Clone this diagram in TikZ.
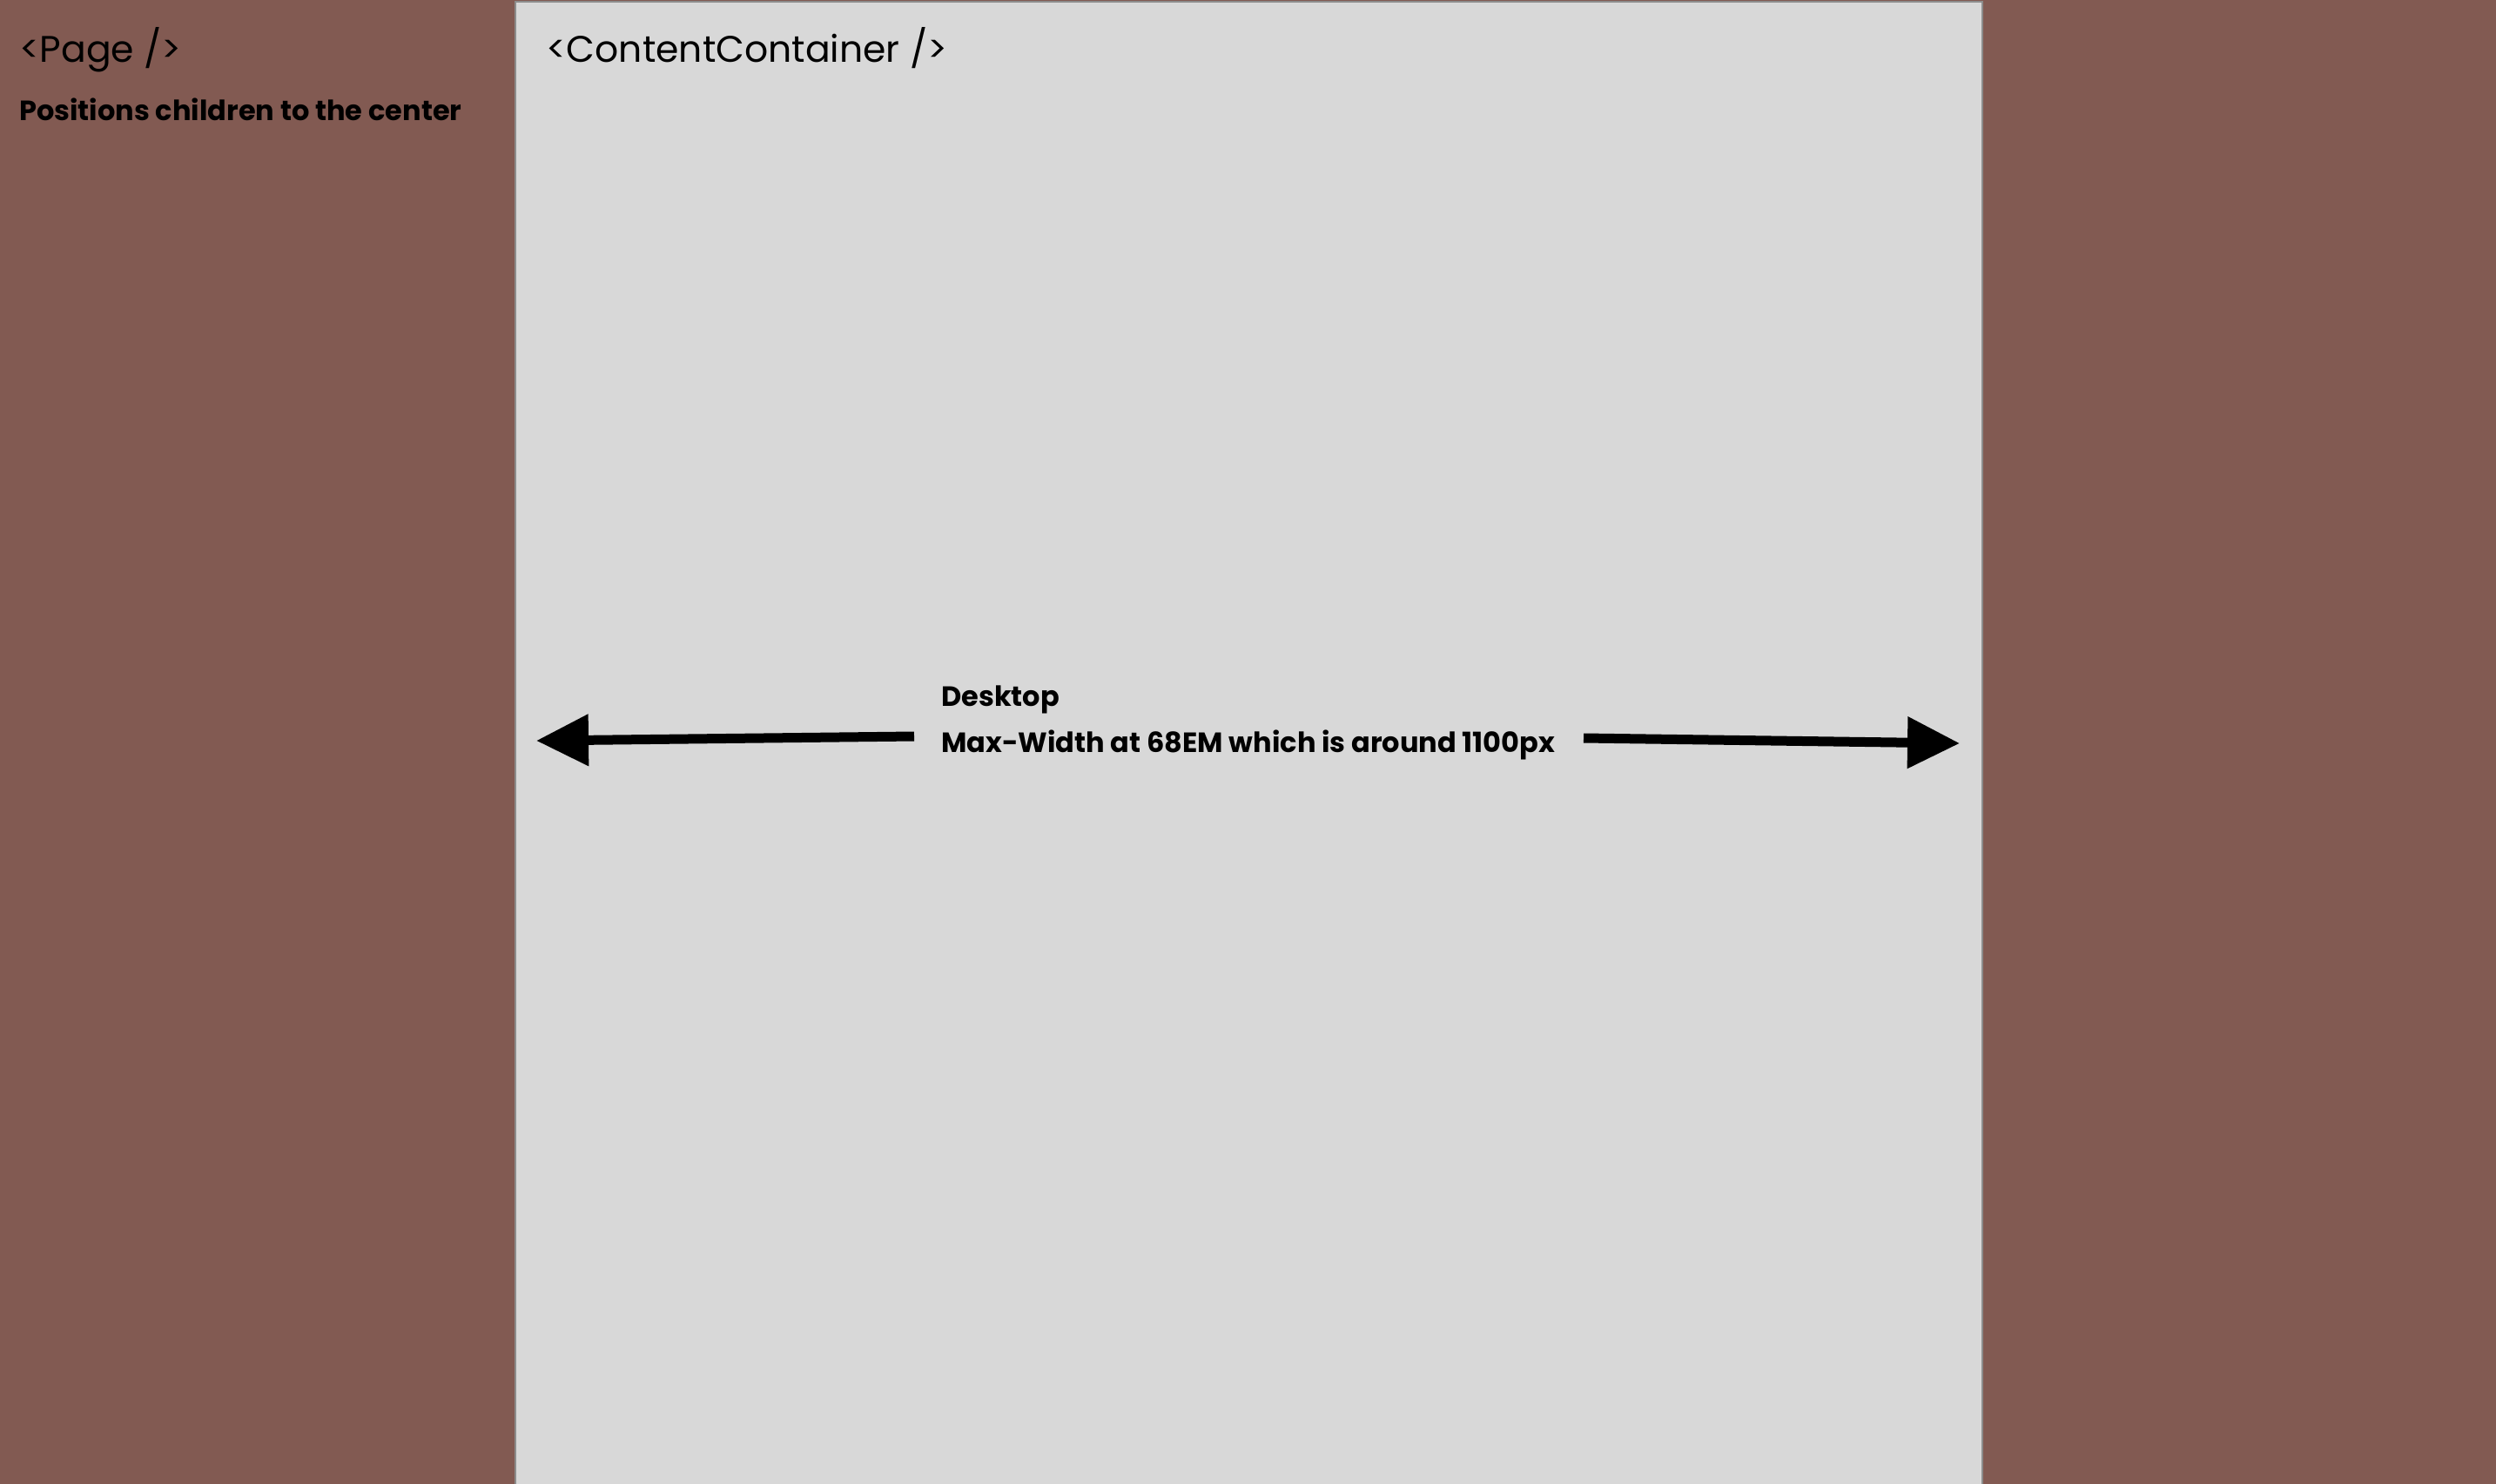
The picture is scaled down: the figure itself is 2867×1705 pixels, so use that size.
\documentclass[tikz,border=0pt]{standalone}
\usepackage{fontspec}
\setmainfont{Poppins}
\usetikzlibrary{arrows.meta}
\definecolor{pagebg}{RGB}{130,90,82}
\definecolor{contbg}{RGB}{216,216,216}
\definecolor{contline}{RGB}{140,140,140}
\tikzset{
  title/.style={anchor=base west, inner sep=0pt, font=\fontsize{42.5}{48}\selectfont},
  note/.style={anchor=base west, inner sep=0pt, font=\bfseries\fontsize{32}{38}\selectfont},
  bigarrow/.style={line width=11pt, -{Triangle[length=60pt,width=57pt]}},
}
\begin{document}
\begin{tikzpicture}[x=1pt,y=-1pt]
\clip (0,0) rectangle (2867,1705);
\useasboundingbox (0,0) rectangle (2867,1705);
\fill[pagebg] (0,0) rectangle (2867,1705);
\node[draw=contline, line width=2pt, fill=contbg, anchor=north west, minimum width=1685pt, minimum height=1720pt, inner sep=0pt] (container) at (591,1) {};
\node[title] (page) at (22,71) {<Page />};
\node[note] (pagenote) at (22,138) {Positions children to the center};
\node[title] (cc) at (627,71) {<ContentContainer />};
\node[note] (desk) at (1081,811) {Desktop};
\node[note] (maxw) at (1081,864) {Max-Width at 68EM which is around 1100px};
\coordinate (lstart) at (1050,846);
\coordinate (ltip) at (616,851);
\coordinate (rstart) at (1819,848);
\coordinate (rtip) at (2251,854);
\draw[bigarrow] (lstart) -- (ltip);
\draw[bigarrow] (rstart) -- (rtip);
\end{tikzpicture}
\end{document}
